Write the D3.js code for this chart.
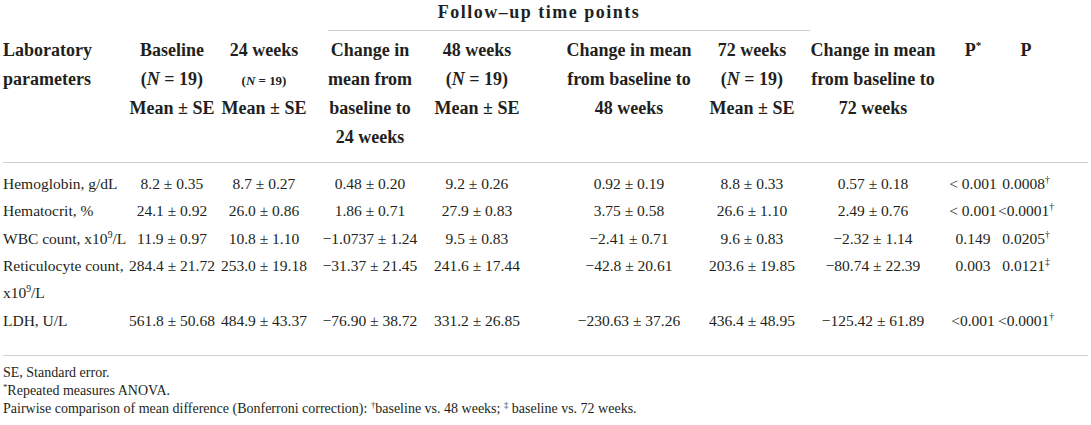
<!DOCTYPE html>
<html>
<head>
<meta charset="utf-8">
<script src="https://cdn.jsdelivr.net/npm/d3@7/dist/d3.min.js"></script>
<style>
    body { margin: 0; background: #fff; }
    svg text { font-family: "Liberation Serif", "Times New Roman", serif; fill: #231f20; }
</style>
</head>
<body>
<script>

    // table content - {i:..} italic, {s:..} superscript, {m:..} small text
    var parameters = [
        "Hemoglobin, g/dL",
        "Hematocrit, %",
        "WBC count, x10{s:9}/L",
        "Reticulocyte count,\nx10{s:9}/L",
        "LDH, U/L"
    ];
    var baseline  = ["8.2 ± 0.35", "24.1 ± 0.92", "11.9 ± 0.97", "284.4 ± 21.72", "561.8 ± 50.68"];
    var week24    = ["8.7 ± 0.27", "26.0 ± 0.86", "10.8 ± 1.10", "253.0 ± 19.18", "484.9 ± 43.37"];
    var change24  = ["0.48 ± 0.20", "1.86 ± 0.71", "−1.0737 ± 1.24", "−31.37 ± 21.45", "−76.90 ± 38.72"];
    var week48    = ["9.2 ± 0.26", "27.9 ± 0.83", "9.5 ± 0.83", "241.6 ± 17.44", "331.2 ± 26.85"];
    var change48  = ["0.92 ± 0.19", "3.75 ± 0.58", "−2.41 ± 0.71", "−42.8 ± 20.61", "−230.63 ± 37.26"];
    var week72    = ["8.8 ± 0.33", "26.6 ± 1.10", "9.6 ± 0.83", "203.6 ± 19.85", "436.4 ± 48.95"];
    var change72  = ["0.57 ± 0.18", "2.49 ± 0.76", "−2.32 ± 1.14", "−80.74 ± 22.39", "−125.42 ± 61.89"];
    var pStar     = ["< 0.001", "< 0.001", "0.149", "0.003", "<0.001"];
    var pValue    = ["0.0008{s:†}", "<0.0001{s:†}", "0.0205{s:†}", "0.0121{s:‡}", "<0.0001{s:†}"];

    var headers = [
        "Laboratory\nparameters",
        "Baseline\n({i:N} = 19)\nMean ± SE",
        "24 weeks\n{m:(}{mi:N}{m: = 19)}\nMean ± SE",
        "Change in\nmean from\nbaseline to\n24 weeks",
        "48 weeks\n({i:N} = 19)\nMean ± SE",
        "Change in mean\nfrom baseline to\n48 weeks",
        "72 weeks\n({i:N} = 19)\nMean ± SE",
        "Change in mean\nfrom baseline to\n72 weeks",
        "P{s:*}",
        "P"
    ];
    var spanner = "Follow–up time points";

    var footnotes = [
        "SE, Standard error.",
        "{s:*}Repeated measures ANOVA.",
        "Pairwise comparison of mean difference (Bonferroni correction): {s:†}baseline vs. 48 weeks; {s:‡} baseline vs. 72 weeks."
    ];

    var columns = [parameters, baseline, week24, change24, week48, change48, week72, change72, pStar, pValue];

    // layout
    var width = 1091, height = 425;
    var bodySize = 15.5, headSize = 18, noteSize = 14;

    var svg = d3.select("body")
        .append("svg")
        .attr("width", width)
        .attr("height", height);

    // column centres (first column is left aligned)
    var x = d3.scaleOrdinal()
        .domain(d3.range(columns.length))
        .range([3, 172, 264, 370, 477, 629, 752, 873, 973, 1026]);

    // header line baselines
    var yHead = d3.scaleLinear().domain([0, 1]).range([56, 85]);

    // body line baselines, reticulocyte row wraps onto two lines
    var lineStart = [];
    parameters.reduce(function (acc, p) {
        lineStart.push(acc);
        return acc + p.split("\n").length;
    }, 0);
    var yBody = d3.scaleLinear().domain([0, 1]).range([189, 216.3]);

    var yNote = d3.scaleLinear().domain([0, 1]).range([377, 395]);

    /*
     * write a string with small markup into a text element
     */
    function rich(textSel, str, size) {
        var re = /\{(\w+):([^}]*)\}/g, last = 0, m, shift = 0;
        function add(t, kind) {
            if (!t) return;
            var ts = textSel.append("tspan").text(t);
            if (kind === "s") {
                ts.attr("font-size", size * 0.62).attr("dy", -size * 0.38);
                shift = size * 0.38;
            } else {
                if (shift) { ts.attr("dy", shift); shift = 0; }
                if (kind === "i") ts.attr("font-style", "italic");
                if (kind === "m") ts.attr("font-size", size * 0.72);
                if (kind === "mi") ts.attr("font-size", size * 0.72).attr("font-style", "italic");
            }
        }
        while ((m = re.exec(str)) !== null) {
            add(str.slice(last, m.index), null);
            add(m[2], m[1]);
            last = re.lastIndex;
        }
        add(str.slice(last), null);
    }

    // spanner over follow-up columns
    var span = [328, 810];

    svg.append("text")
        .attr("x", (span[0] + span[1]) / 2 - 30)
        .attr("y", 18)
        .attr("text-anchor", "middle")
        .attr("font-size", headSize)
        .attr("font-weight", "bold")
        .attr("letter-spacing", 1.5)
        .text(spanner);

    svg.append("line")
        .attr("x1", span[0]).attr("x2", span[1])
        .attr("y1", 30.5).attr("y2", 30.5)
        .attr("stroke", "#cfcfcf").attr("stroke-width", 1.2);

    // header cells
    headers.forEach(function (h, c) {
        h.split("\n").forEach(function (line, i) {
            var t = svg.append("text")
                .attr("x", x(c))
                .attr("y", yHead(i))
                .attr("text-anchor", c === 0 ? "start" : "middle")
                .attr("font-size", headSize)
                .attr("font-weight", "bold");
            rich(t, line, headSize);
        });
    });

    // rules
    [[3, 1088, 162.5], [3, 1088, 355.5]].forEach(function (r) {
        svg.append("line")
            .attr("x1", r[0]).attr("x2", r[1])
            .attr("y1", r[2]).attr("y2", r[2])
            .attr("stroke", "#cfcfcf").attr("stroke-width", 1.2);
    });

    // body cells
    columns.forEach(function (col, c) {
        col.forEach(function (v, r) {
            v.split("\n").forEach(function (line, i) {
                var t = svg.append("text")
                    .attr("x", x(c))
                    .attr("y", yBody(lineStart[r] + i))
                    .attr("text-anchor", c === 0 ? "start" : "middle")
                    .attr("font-size", bodySize);
                rich(t, line, bodySize);
            });
        });
    });

    // footnotes
    footnotes.forEach(function (f, i) {
        var t = svg.append("text")
            .attr("x", 3)
            .attr("y", yNote(i))
            .attr("font-size", noteSize);
        rich(t, f, noteSize);
    });

</script>
</body>
</html>
